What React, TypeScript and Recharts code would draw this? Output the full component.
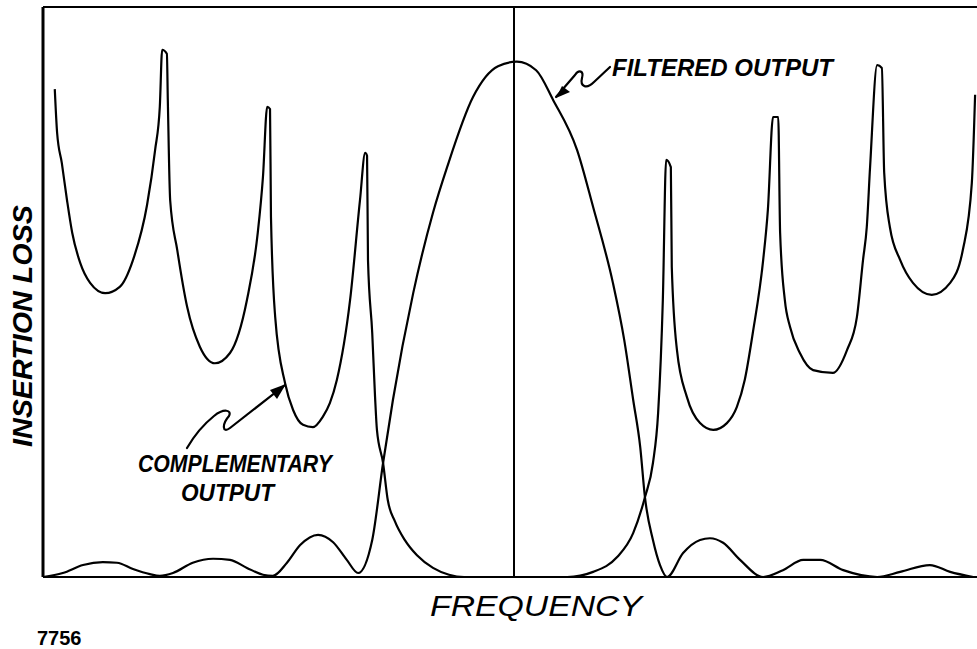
import { LineChart, Line, XAxis, YAxis, ReferenceLine, Customized } from 'recharts';

// frequency is relative to the pass-band centre (-100 .. 100), loss is 0 .. 100 (arbitrary units)
const compFreq = [
  -97.5, -97.0, -96.0, -94.9, -93.8, -92.1, -90.0, -86.8, -83.7, -80.9, -77.9, -76.2, -75.2, -74.7,
  -73.7, -73.5, -73.0, -71.5, -69.4, -66.7, -63.5, -60.3, -56.7, -54.4, -53.3, -52.4, -51.8, -51.6,
  -50.7, -48.6, -46.9, -44.8, -42.7, -40.6, -39.1, -37.6, -34.8, -32.7, -31.6, -31.2, -31.0, -30.1,
  -29.5, -29.1, -27.8, -26.8, -25.3, -23.2, -20.6, -17.2, -13.8, -10.6, 11.3, 16.8, 21.9, 25.3, 27.8,
  29.5, 30.6, 31.6, 32.3, 33.3, 33.5, 34.6, 36.7, 39.5, 42.3, 45.2, 47.3, 49.0, 50.7, 52.9, 53.9,
  55.0, 56.1, 56.5, 57.5, 58.6, 60.7, 63.5, 67.7, 70.7, 72.8, 74.1, 74.9, 75.6, 77.1, 78.1, 78.6,
  79.8, 82.0, 84.7, 88.7, 92.6, 95.3, 97.2, 97.9,
];
const compLoss = [
  85.6, 77.9, 72.6, 66.1, 60.4, 55.1, 51.6, 49.8, 50.9, 55.6, 65.3, 74.9, 82.5, 92.5,
  91.8, 83.7, 66.1, 57.4, 47.4, 40.4, 37.5, 39.3, 48.6, 60.4, 70.2, 82.5, 82.1, 63.2,
  45.6, 34.0, 29.3, 26.7, 26.3, 28.1, 30.5, 34.6, 48.6, 66.1, 74.4, 73.9, 55.6, 42.8,
  31.6, 25.8, 20.0, 13.5, 9.8, 6.5, 3.8, 1.6, 0.4, 0, 0, 0.9, 3.5, 7.7, 14.0,
  20.0, 28.8, 48.6, 73.2, 71.9, 54.4, 39.8, 31.6, 27.0, 25.8, 27.0, 29.8, 34.6, 42.8, 55.6, 64.4,
  80.7, 80.7, 60.4, 48.6, 43.9, 39.3, 36.3, 35.8, 39.8, 45.6, 55.6, 61.4, 71.9, 89.8, 89.3, 70.9,
  61.4, 55.6, 51.6, 49.5, 51.6, 57.4, 69.1, 84.6,
];

const filtFreq = [
  -100, -95.8, -91.5, -87.3, -84.3, -80.9, -77.3, -75.2, -72.4, -68.2, -63.9, -60.3, -56.7, -53.3,
  -51.2, -48.2, -45.4, -41.6, -38.4, -35.5, -33.1, -30.1, -27.8, -25.7, -21.4, -17.2, -14.2, -8.7,
  -3.4, 0.6, 4.7, 8.3, 13.4, 16.8, 21.0, 23.4, 25.3, 26.8, 27.8, 29.5, 31.0, 32.5, 35.9, 39.5, 41.6,
  44.4, 48.0, 52.9, 57.1, 61.4, 65.0, 69.9, 77.1, 82.0, 88.3, 92.6, 97.5,
];
const filtLoss = [
  0, 0.7, 2.1, 2.6, 2.5, 1.4, 0.5, 0.2, 0.7, 2.5, 3.2, 3.0, 1.6, 0.4,
  0.2, 2.5, 5.6, 7.4, 6.1, 3.0, 0.7, 6.5, 20.0, 31.1, 49.8, 63.9, 71.9, 84.2,
  89.6, 90.4, 88.9, 83.7, 74.9, 64.9, 51.6, 41.6, 31.1, 22.8, 14.0, 6.5, 2.1, 0, 4.2, 6.5, 6.8,
  6.0, 3.0, 0, 1.2, 3.0, 3.0, 1.2, 0, 0.9, 2.1, 0.9, 0,
];

const complementary = compFreq.map((f, i) => ({ f, loss: compLoss[i] }));
const filtered = filtFreq.map((f, i) => ({ f, loss: filtLoss[i] }));

const hand = "'Liberation Sans', Arial, sans-serif";

function Notes() {
  return (
    <g fill="#000" fontFamily={hand} fontStyle="italic">
      <text x={32} y={326} transform="rotate(-90 32 326)" textAnchor="middle" fontSize={28} fontWeight="bold" textLength={242} lengthAdjust="spacingAndGlyphs">
        INSERTION LOSS
      </text>
      <text x={536} y={616} textAnchor="middle" fontSize={29} textLength={212} lengthAdjust="spacingAndGlyphs">
        FREQUENCY
      </text>
      <text x={612} y={76} fontSize={24} fontWeight="bold" textLength={221} lengthAdjust="spacingAndGlyphs">
        FILTERED OUTPUT
      </text>
      <text x={138} y={472} fontSize={23} fontWeight="bold" textLength={194} lengthAdjust="spacingAndGlyphs">
        COMPLEMENTARY
      </text>
      <text x={181} y={501} fontSize={23} fontWeight="bold" textLength={93} lengthAdjust="spacingAndGlyphs">
        OUTPUT
      </text>
      <text x={37} y={645} fontSize={20} fontWeight="bold" fontStyle="normal">7756</text>
      <g fill="none" stroke="#000" strokeWidth={2.2} strokeLinecap="round" strokeLinejoin="round">
        <path d="M556 97 L575 75 C579 69 584 71 582 78 C580 86 586 90 594 82 L610 67" />
        <path d="M285 385 L230 428 C222 434 222 424 229 416 C232 410 224 408 214 416 C204 424 194 436 187 448" />
      </g>
      <path d="M556 98 L562 86 L570 92 Z" fill="#000" />
      <path d="M286 384 L270 390 L277 399 Z" fill="#000" />
    </g>
  );
}

export default function App() {
  return (
    <div style={{ position: 'absolute', left: 0, top: 0, width: 977, height: 649, overflow: 'hidden', background: '#fff' }}>
      <LineChart width={985} height={649} margin={{ top: 7, right: 0, bottom: 72, left: 43 }}>
        <XAxis type="number" dataKey="f" domain={[-100, 100]} hide allowDuplicatedCategory={false} />
        <YAxis type="number" domain={[0, 100]} hide />
        <ReferenceLine y={100} stroke="#000" strokeWidth={2} />
        <ReferenceLine x={-100} stroke="#000" strokeWidth={3} />
        <ReferenceLine y={0} stroke="#000" strokeWidth={2} />
        <ReferenceLine x={0} stroke="#000" strokeWidth={2} />
        <Line data={complementary} dataKey="loss" type="monotone" stroke="#000" strokeWidth={2.2} dot={false} isAnimationActive={false} />
        <Line data={filtered} dataKey="loss" type="monotone" stroke="#000" strokeWidth={2.2} dot={false} isAnimationActive={false} />
        <Customized component={Notes} />
      </LineChart>
    </div>
  );
}
